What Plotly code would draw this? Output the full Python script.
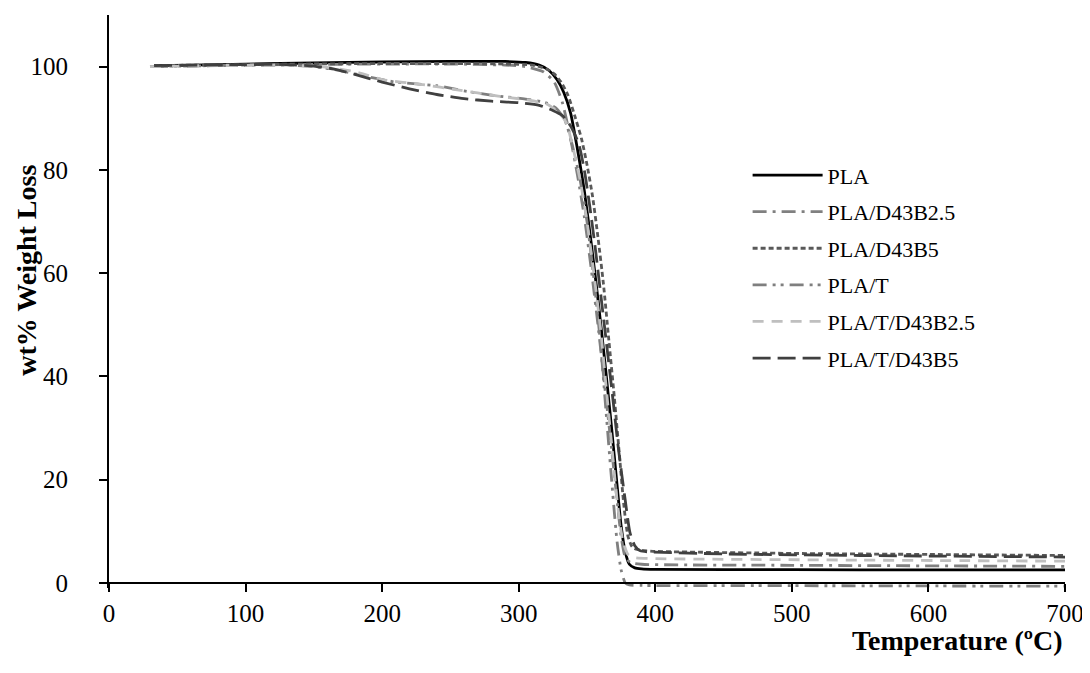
import plotly.graph_objects as go

# ---- data (temperature in °C, weight in %) ----
pla_t = [33, 60, 100, 150, 200, 250, 290, 305, 315, 322, 328, 333, 338, 343, 348, 353, 358, 363, 368, 372, 375, 378, 381, 385, 390, 400, 500, 600, 700]
pla_w = [100.2, 100.3, 100.5, 100.7, 100.9, 101.0, 101.0, 100.8, 100.3, 99.3, 97.5, 95.0, 91.0, 84.0, 76.0, 66.0, 55.0, 43.0, 30.0, 19.0, 11.0, 6.0, 3.6, 2.9, 2.7, 2.6, 2.55, 2.5, 2.5]

d25_t = [33, 100, 200, 250, 290, 305, 318, 326, 332, 338, 343, 348, 353, 358, 363, 368, 372, 375, 378, 382, 390, 500, 700]
d25_w = [100.0, 100.3, 100.5, 100.5, 100.3, 100.0, 99.0, 97.0, 93.0, 86.0, 79.0, 71.0, 61.0, 50.0, 38.0, 26.0, 16.0, 9.0, 5.0, 3.9, 3.6, 3.4, 3.2]

d5_t = [33, 100, 200, 250, 290, 310, 320, 326, 331, 336, 341, 346, 350, 354, 358, 362, 366, 370, 374, 377, 380, 383, 386, 390, 400, 500, 600, 700]
d5_w = [100.2, 100.4, 100.6, 100.6, 100.5, 100.3, 99.6, 98.6, 97.0, 94.5, 90.5, 86.0, 81.0, 75.0, 67.0, 58.0, 47.0, 36.0, 24.0, 15.0, 9.0, 7.0, 6.5, 6.3, 6.1, 5.7, 5.5, 5.3]

t_t = [30, 80, 130, 150, 170, 190, 210, 240, 260, 285, 305, 320, 328, 334, 340, 345, 350, 355, 360, 364, 368, 372, 375, 378, 381, 390, 500, 600, 700]
t_w = [100.0, 100.2, 100.3, 100.0, 99.2, 98.0, 97.0, 96.3, 95.3, 94.3, 93.7, 93.0, 91.8, 89.5, 84.0, 78.0, 70.0, 59.0, 46.0, 33.0, 20.0, 8.0, 2.5, 0.0, -0.4, -0.5, -0.55, -0.6, -0.65]

td25_t = [30, 80, 130, 155, 180, 200, 230, 255, 285, 305, 320, 330, 335, 340, 345, 350, 355, 360, 364, 368, 372, 376, 380, 385, 400, 550, 700]
td25_w = [100.0, 100.2, 100.3, 100.0, 99.0, 97.5, 96.5, 95.5, 94.3, 93.6, 92.8, 91.0, 89.0, 84.0, 78.0, 70.0, 60.0, 49.0, 38.0, 27.0, 16.0, 8.5, 5.5, 4.9, 4.7, 4.4, 4.2]

td5_t = [33, 100, 130, 150, 165, 180, 200, 220, 240, 260, 280, 300, 315, 325, 332, 338, 344, 348, 352, 356, 360, 364, 369, 373, 378, 381.5, 385, 389, 395, 450, 550, 700]
td5_w = [100.2, 100.4, 100.4, 100.1, 99.5, 98.5, 97.0, 95.7, 94.6, 93.8, 93.3, 93.0, 92.5, 91.5, 90.5, 88.5, 85.0, 80.0, 73.0, 65.0, 56.0, 47.0, 35.5, 26.0, 16.0, 9.7, 7.2, 6.2, 6.0, 5.6, 5.3, 5.0]

names = ["PLA", "PLA/D43B2.5", "PLA/D43B5", "PLA/T", "PLA/T/D43B2.5", "PLA/T/D43B5"]
xs = [pla_t, d25_t, d5_t, t_t, td25_t, td5_t]
ys = [pla_w, d25_w, d5_w, t_w, td25_w, td5_w]
colors = ["#000000", "#808080", "#595959", "#7f7f7f", "#bfbfbf", "#404040"]
dashes = ["solid", "14px,6px,3px,6px", "5px,3px", "14px,6px,3px,5px,3px,6px", "11px,8px", "18px,7px"]

x_ticks = [0, 100, 200, 300, 400, 500, 600, 700]
y_ticks = [0, 20, 40, 60, 80, 100]

FONT = "Liberation Serif"

fig = go.Figure()
for i, (n, x, y, c, d) in enumerate(zip(names, xs, ys, colors, dashes)):
    fig.add_trace(go.Scatter(x=x, y=y, name=n, mode="lines", legendgroup=f"g{i}",
                             line=dict(color=c, width=2.8, dash=d, shape="spline", smoothing=0.6)))

ymin, ymax = -1.0, 110.0
# the page body adds an 8px offset; the figure is sized to fill the rest of the window
fig.update_layout(
    width=1082, height=665,
    margin=dict(l=101, r=25, t=7, b=85),
    paper_bgcolor="white", plot_bgcolor="white",
    font=dict(family=FONT, size=25, color="black"),
    showlegend=True,
    legend=dict(x=0.668, y=0.757, xanchor="left", yanchor="top",
                font=dict(family=FONT, size=22, color="black"),
                itemwidth=70, bgcolor="rgba(0,0,0,0)", tracegroupgap=5,
                traceorder="grouped"),
    xaxis=dict(range=[0, 700], tickvals=x_ticks, showgrid=False, zeroline=False,
               showline=True, linecolor="black", linewidth=2,
               ticks="outside", ticklen=8, tickwidth=2, tickcolor="black",
               anchor="free", position=(0 - ymin) / (ymax - ymin),
               tickfont=dict(family=FONT, size=25)),
    yaxis=dict(range=[ymin, ymax], tickvals=y_ticks, showgrid=False, zeroline=False,
               showline=True, linecolor="black", linewidth=2,
               ticks="outside", ticklen=8, tickwidth=2, tickcolor="black",
               ticklabelstandoff=26,
               tickfont=dict(family=FONT, size=25)),
    annotations=[
        dict(text="<b>Temperature (ºC)</b>", xref="paper", yref="paper",
             x=1.0, y=-0.092, xanchor="right", yanchor="middle", showarrow=False,
             font=dict(family=FONT, size=28, color="black")),
        dict(text="<b>wt% Weight Loss</b>", xref="paper", yref="paper",
             x=-0.086, y=0.555, xanchor="center", yanchor="middle", textangle=-90,
             showarrow=False, font=dict(family=FONT, size=28, color="black")),
    ],
)

fig.write_html("out.html")
